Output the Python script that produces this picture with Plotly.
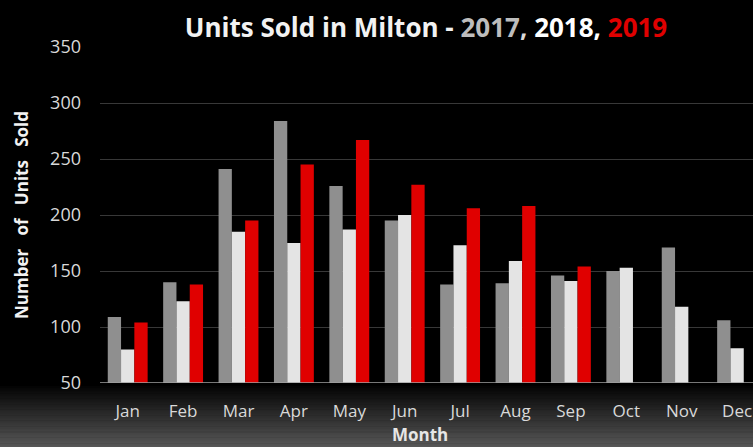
import plotly.graph_objects as go

months = ["Jan", "Feb", "Mar", "Apr", "May", "Jun", "Jul", "Aug", "Sep", "Oct", "Nov", "Dec"]
units_2017 = [109, 140, 241, 284, 226, 195, 138, 139, 146, 150, 171, 106]
units_2018 = [80, 123, 185, 175, 187, 200, 173, 159, 141, 153, 118, 81]
units_2019 = [104, 138, 195, 245, 267, 227, 206, 208, 154, None, None, None]
y_ticks = [50, 100, 150, 200, 250, 300, 350]

W, H = 753, 447
ML, MR, MT, MB = 100, 0, 47, 64
FONT = "Open Sans"

fig = go.Figure()
fig.add_trace(go.Bar(x=months, y=units_2017, name="2017", marker=dict(color="#8f8f8f", line=dict(width=0))))
fig.add_trace(go.Bar(x=months, y=units_2018, name="2018", marker=dict(color="#e4e4e4", line=dict(width=0))))
fig.add_trace(go.Bar(x=months, y=units_2019, name="2019", marker=dict(color="#e00000", line=dict(width=0))))

# bottom gradient band (paper coordinates below the plot area)
plot_h = H - MT - MB
shapes = []
n = 50
top_px, bot_px = 386, H
for i in range(n):
    y0px = top_px + (bot_px - top_px) * i / n
    y1px = top_px + (bot_px - top_px) * (i + 1) / n + 0.5
    c = int(4 + (88 - 4) * ((i + 0.5) / n) ** 1.0)
    shapes.append(dict(type="rect", xref="paper", yref="paper", layer="below",
                       x0=-ML / (W - ML - MR), x1=1.0,
                       y0=(H - MB - y1px) / plot_h, y1=(H - MB - y0px) / plot_h,
                       fillcolor=f"rgb({c},{c},{c})", line=dict(width=0)))

title_text = ("<b><span style='color:#f2f2f2'>Units Sold in Milton - </span>"
              "<span style='color:#bdbdbd'>2017</span>"
              "<span style='color:#d9d9d9'>, </span>"
              "<span style='color:#ffffff'>2018, </span>"
              "<span style='color:#e00000'>2019</span></b>")

fig.update_layout(
    width=W, height=H,
    margin=dict(l=ML, r=MR, t=MT, b=MB, pad=0),
    paper_bgcolor="#000000", plot_bgcolor="#000000",
    barmode="group", bargap=0.28, bargroupgap=0,
    showlegend=False,
    shapes=shapes,
    title=dict(text=title_text, x=426 / W, xanchor="center", y=1 - 28 / H, yanchor="middle",
               font=dict(family=FONT, size=26)),
    font=dict(family=FONT, color="#d9d9d9"),
    xaxis=dict(
        range=[-0.5, -0.5 + (W - ML - MR) / 55.4],
        showgrid=False, showline=False, zeroline=False,
        ticks="", tickfont=dict(size=17, color="#d9d9d9"), ticklabelstandoff=16,
    ),
    yaxis=dict(
        range=[50, 350], tickvals=y_ticks,
        showgrid=True, gridcolor="#383838", gridwidth=1,
        zeroline=False, showline=False,
        ticks="", tickfont=dict(size=18, color="#d9d9d9"), ticklabelstandoff=18,
        title=dict(text="<b>Number\u00a0\u00a0 of\u00a0\u00a0 Units\u00a0\u00a0 Sold</b>",
                   font=dict(size=17, color="#f2f2f2"), standoff=17),
    ),
    annotations=[dict(text="<b>Month</b>", xref="paper", yref="paper",
                      x=(420 - ML) / (W - ML - MR), y=(H - MB - 435) / plot_h,
                      xanchor="center", yanchor="middle", showarrow=False,
                      font=dict(family=FONT, size=17, color="#e6e6e6"))],
)

# baseline axis line at 50
fig.add_shape(type="line", xref="paper", yref="y", x0=0, x1=1, y0=50, y1=50,
              line=dict(color="#a0a0a0", width=1.5), layer="above")

fig.write_html("out.html")
